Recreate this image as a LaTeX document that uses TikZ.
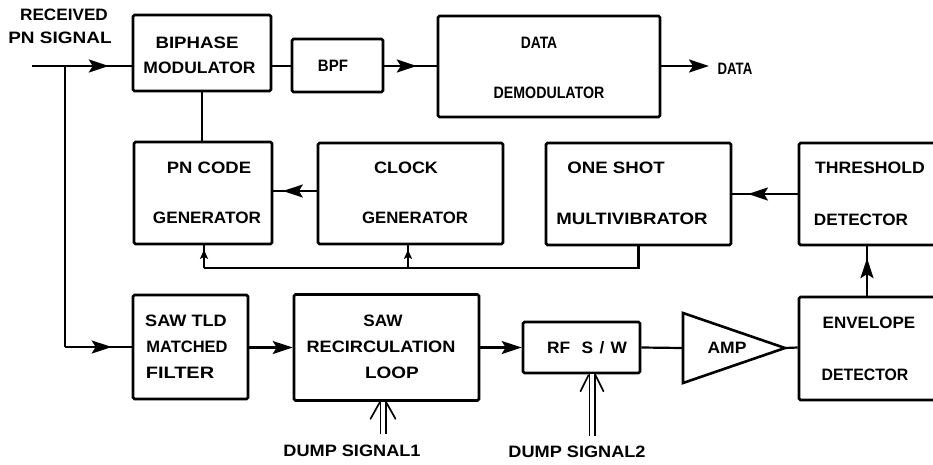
\documentclass[tikz,border=0pt]{standalone}
\usepackage{fontspec}
\setmainfont{Liberation Sans}
\usepackage{graphicx}
\usetikzlibrary{arrows.meta,decorations.markings,calc}
\newcommand{\hs}[2]{\scalebox{#1}[1]{#2}}
\tikzset{
  box/.style={draw, line width=2.6pt, rounded corners=1.5pt, inner sep=0pt},
  lbl/.style={inner sep=0pt, font=\bfseries\fontsize{16.5}{18}\selectfont, text height=11.8pt, text depth=0pt},
  wire/.style={line width=2.2pt},
  tipA/.tip={Stealth[length=20pt,width=13pt,inset=4pt]},
  tipS/.tip={Stealth[length=9pt,width=8pt,inset=2pt]},
  midarrow/.style={wire, postaction={decorate}, decoration={markings, mark=at position #1 with {\arrow{tipA}}}},
  smallup/.style={wire, postaction={decorate}, decoration={markings, mark=at position #1 with {\arrow{tipS}}}},
  dumpline/.style={double, double distance=3.6pt, line width=1.7pt},
  barb/.style={line width=1.7pt, line cap=round},
}
\begin{document}
\begin{tikzpicture}[x=1pt,y=-1pt]
\clip (0,0) rectangle (933,464);
\fill[white] (0,0) rectangle (933,464);

% boxes
\node[box, minimum width=138pt, minimum height=76pt]  (bip)  at (202,53) {};
\node[box, minimum width=91pt,  minimum height=53pt]  (bpf)  at (337.5,65.5) {};
\node[box, minimum width=222pt, minimum height=101pt] (dem)  at (549,66.5) {};
\node[box, minimum width=138pt, minimum height=102pt] (pn)   at (203,193) {};
\node[box, minimum width=185pt, minimum height=101pt] (clk)  at (410.5,193.5) {};
\node[box, minimum width=185pt, minimum height=102pt] (one)  at (638.5,194) {};
\node[box, minimum width=154pt, minimum height=102pt] (thr)  at (876,194) {};
\node[box, minimum width=115pt, minimum height=104pt] (saw)  at (190.5,347) {};
\node[box, minimum width=185pt, minimum height=106pt] (loop) at (386.5,347.5) {};
\node[box, minimum width=117pt, minimum height=51pt]  (rf)   at (581.5,347.5) {};
\node[box, minimum width=154pt, minimum height=103pt] (env)  at (876,348.5) {};
\coordinate (ampin) at (683,348);
\coordinate (ampout) at (785,348);
\draw[line width=2.6pt, line join=miter] (683,313) -- (ampout) -- (683,383) -- cycle;

% labels
\node[lbl] (t1)  at (64,14.5)   {\hs{1.04}{RECEIVED}};
\node[lbl] (t2)  at (60,37.5)   {\hs{1.15}{PN SIGNAL}};
\node[lbl] (t3)  at (197,42.5)  {\hs{1.13}{BIPHASE}};
\node[lbl] (t4)  at (199.5,68)  {\hs{1.06}{MODULATOR}};
\node[lbl] (t5)  at (333,66)    {\hs{0.91}{BPF}};
\node[lbl] (t6)  at (539,43)    {\hs{0.84}{DATA}};
\node[lbl] (t7)  at (549,93)    {\hs{0.86}{DEMODULATOR}};
\node[lbl] (t8)  at (735,69)    {\hs{0.8}{DATA}};
\node[lbl] (t9)  at (209,167.5) {\hs{1.12}{PN CODE}};
\node[lbl] (t10) at (207,218)   {\hs{1.04}{GENERATOR}};
\node[lbl] (t11) at (406,168)   {\hs{1.09}{CLOCK}};
\node[lbl] (t12) at (415,218)   {\hs{1.02}{GENERATOR}};
\node[lbl] (t13) at (616,168)   {\hs{1.13}{ONE SHOT}};
\node[lbl] (t14) at (632,219)   {\hs{1.13}{MULTIVIBRATOR}};
\node[lbl] (t15) at (870,168)   {\hs{1.07}{THRESHOLD}};
\node[lbl] (t16) at (861,220)   {\hs{1.04}{DETECTOR}};
\node[lbl] (t17) at (869,323)   {\hs{1.03}{ENVELOPE}};
\node[lbl] (t18) at (865,375)   {\hs{0.96}{DETECTOR}};
\node[lbl] (t19) at (186,321)   {\hs{1.1}{SAW TLD}};
\node[lbl] (t20) at (187,347)   {\hs{1.0}{MATCHED}};
\node[lbl] (t21) at (180,373)   {\hs{1.21}{FILTER}};
\node[lbl] (t22) at (383,321)   {\hs{1.04}{SAW}};
\node[lbl] (t23) at (381,347)   {\hs{1.1}{RECIRCULATION}};
\node[lbl] (t24) at (392,373)   {\hs{1.15}{LOOP}};
\node[lbl] (t25) at (587,348)   {\hs{1.05}{RF\hspace{11pt}S\hspace{6pt}/\hspace{6pt}W}};
\node[lbl] (t26) at (727,348)   {\hs{1.06}{AMP}};
\node[lbl] (t27) at (352,451)   {\hs{1.1}{DUMP SIGNAL1}};
\node[lbl] (t28) at (577,451.5) {\hs{1.1}{DUMP SIGNAL2}};

% helper coordinates
\coordinate (inp) at (32,66);
\coordinate (j1) at (65,66);
\coordinate (j2) at (65,347);
\coordinate (sig) at (0,347.5);
\coordinate (dout) at (709,66);
\coordinate (r191) at (0,191);
\coordinate (cx) at (867,0);
\coordinate (fbpn) at (204,268);
\coordinate (fbclk) at (408,268);
\coordinate (fbone) at (638.5,268);
\coordinate (d1) at (383,434);
\coordinate (d2) at (592,436);

% top chain
\draw[midarrow=0.77] (inp) -- (bip.west |- inp);
\draw[wire] (bip.east |- inp) -- (bpf.west |- inp);
\draw[midarrow=0.62] (bpf.east |- inp) -- (dem.west |- inp);
\draw[wire,-{tipA}] (dem.east |- inp) -- (dout);
\draw[wire] (bip.south) -- (bip.south |- pn.north);

% branch to matched filter
\draw[wire] (j1) -- (j2);
\draw[midarrow=0.7] (j2) -- (saw.west |- j2);

% middle row
\draw[midarrow=0.78] (clk.west |- r191) -- (pn.east |- r191);
\draw[midarrow=0.76] (thr.west) -- (one.east);
\draw[midarrow=0.76] (env.north -| cx) -- (thr.south -| cx);

% feedback from one shot
\draw[wire] (one.south) -- (fbone) -- (fbpn);
\draw[smallup=0.8] (fbpn) -- (pn.south -| fbpn);
\draw[smallup=0.8] (fbclk) -- (clk.south -| fbclk);

% bottom chain
\draw[wire,-{tipA}] (saw.east |- sig) -- (loop.west |- sig);
\draw[wire,-{tipA}] (loop.east |- sig) -- (rf.west |- sig);
\draw[wire] (rf.east |- sig) -- (ampin);
\draw[wire] (ampout) -- (env.west |- sig);

% dump signal arrows
\coordinate (d1t) at (d1 |- loop.south);
\coordinate (d2t) at (d2 |- rf.south);
\draw[dumpline] (d1) -- (d1t);
\draw[barb] ($(d1t)+(-3.5,1)$) -- ++(-9,16);
\draw[barb] ($(d1t)+(3.5,1)$) -- ++(9,16);
\draw[dumpline] (d2) -- (d2t);
\draw[barb] ($(d2t)+(-3.5,1)$) -- ++(-8,16);
\draw[barb] ($(d2t)+(3.5,1)$) -- ++(8,16);
\end{tikzpicture}
\end{document}
